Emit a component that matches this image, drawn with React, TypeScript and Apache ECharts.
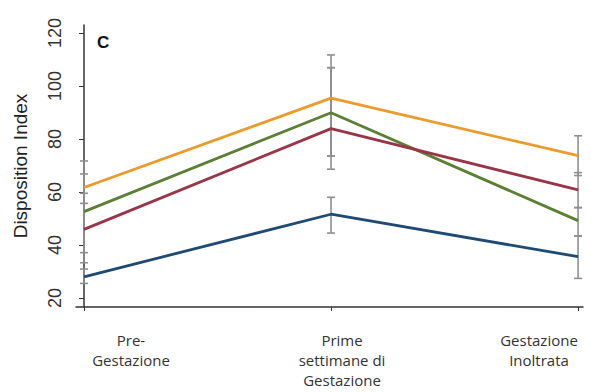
import React, { useEffect, useRef } from "react";
import * as echarts from "echarts";

const categories = ["Pre-\nGestazione", "Prime\nsettimane di\nGestazione", "Gestazione\nInoltrata"];
const yTicks = [20, 40, 60, 80, 100, 120];
const seriesNames = ["Orange", "Green", "Red", "Blue"];
const orangeVals = [61.7, 95.4, 73.7];
const greenVals = [52.6, 89.9, 49.2];
const redVals = [45.9, 83.9, 60.8];
const blueVals = [28.0, 51.6, 35.6];
// error bar ends [low, high] per category
const orangeErr = [[55.7, 71.7], [73.6, 111.7], [66.2, 81.2]];
const greenErr = [[37.1, 66.8], [68.6, 106.9], [43.4, 54.1]];
const redErr = [[33.3, 59.5], [73.6, 106.9], [54.1, 67.3]];
const blueErr = [[25.5, 30.9], [44.5, 58.0], [27.4, 43.4]];

const colors = ["#EC9A2A", "#5B7F35", "#9A3547", "#1F4A72"];

export default function App() {
  const ref = useRef<HTMLDivElement>(null);
  useEffect(() => {
    if (!ref.current) return;
    const chart = echarts.init(ref.current, undefined, { renderer: "svg" });
    const vals = [orangeVals, greenVals, redVals, blueVals];
    const errs = [orangeErr, greenErr, redErr, blueErr];
    const errData: number[][] = [];
    errs.forEach((e) => e.forEach((pair, i) => errData.push([i, pair[0], pair[1]])));

    const labelX = [131, 342, 539];
    const labelTexts = categories.map((c, i) => ({
      type: "text",
      x: labelX[i],
      y: 330,
      style: {
        text: c,
        fill: "#333",
        font: '15px "Open Sans"',
        align: "center",
        verticalAlign: "top",
        lineHeight: 20,
      },
    }));

    chart.setOption({
      animation: false,
      grid: { left: 76, right: 8, top: 25, bottom: 85 },
      xAxis: {
        type: "value",
        min: -0.0324,
        max: 2.02,
        axisLine: { lineStyle: { color: "#333", width: 1.5 } },
        axisTick: { customValues: [0, 1, 2], length: 4, lineStyle: { color: "#333" } },
        axisLabel: { show: false },
        splitLine: { show: false },
      },
      yAxis: {
        type: "value",
        min: 16.6,
        max: 123,
        name: "Disposition Index",
        nameLocation: "middle",
        nameGap: 46,
        nameTextStyle: { fontFamily: "Liberation Sans", fontSize: 19, color: "#222" },
        axisLine: { show: true, lineStyle: { color: "#333", width: 1.5 } },
        axisTick: { show: true, customValues: yTicks, length: 5, lineStyle: { color: "#333" } },
        axisLabel: {
          customValues: yTicks,
          rotate: 90,
          margin: 12,
          fontFamily: "Liberation Sans",
          fontSize: 18,
          color: "#333",
        },
        splitLine: { show: false },
      },
      graphic: [
        {
          type: "text",
          left: 97,
          top: 34,
          style: { text: "C", fill: "#111", font: 'bold 17px "Liberation Sans"' },
        },
        ...labelTexts,
      ],
      series: [
        {
          type: "custom",
          z: 1,
          data: errData,
          renderItem: (params: any, api: any) => {
            const x = api.value(0);
            const lo = api.coord([x, api.value(1)]);
            const hi = api.coord([x, api.value(2)]);
            const w = 4;
            const st = { stroke: "#8f8f8f", lineWidth: 1.6 };
            return {
              type: "group",
              children: [
                { type: "line", shape: { x1: lo[0], y1: lo[1], x2: hi[0], y2: hi[1] }, style: st },
                { type: "line", shape: { x1: lo[0] - w, y1: lo[1], x2: lo[0] + w, y2: lo[1] }, style: st },
                { type: "line", shape: { x1: hi[0] - w, y1: hi[1], x2: hi[0] + w, y2: hi[1] }, style: st },
              ],
            };
          },
        },
        ...vals.map((v, si) => ({
          type: "line",
          name: seriesNames[si],
          z: 3,
          data: v.map((y, i) => [i, y]),
          showSymbol: false,
          symbol: "none",
          lineStyle: { color: colors[si], width: 2.8 },
          itemStyle: { color: colors[si] },
        })),
      ],
    });
    return () => chart.dispose();
  }, []);
  return <div ref={ref} style={{ width: 591, height: 392, position: "absolute", left: 0, top: 0 }} />;
}
